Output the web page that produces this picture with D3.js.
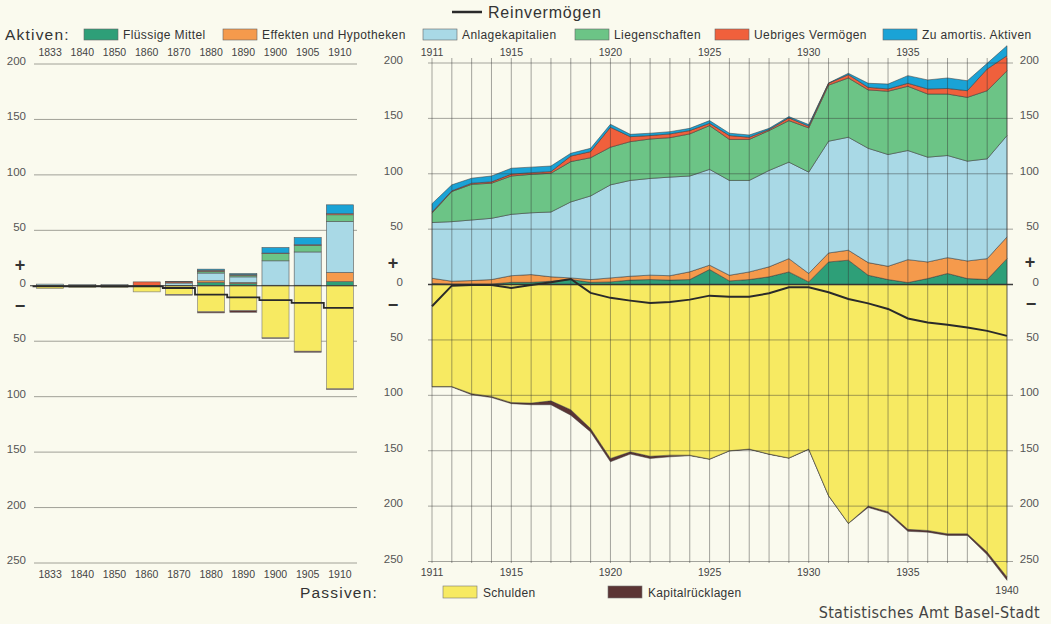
<!DOCTYPE html>
<html>
<head>
<meta charset="utf-8">
<script src="https://cdn.jsdelivr.net/npm/d3@7"></script>
<style>
  body { margin: 0; background: #fafaee; }
  svg { display: block; font-family: "Liberation Sans", Arial, sans-serif; }
</style>
</head>
<body>
<svg id="chart"></svg>
<script>
// ---- data (Mio. Fr.) ----
const assetKeys   = ["Flüssige Mittel", "Effekten und Hypotheken", "Anlagekapitalien", "Liegenschaften", "Uebriges Vermögen", "Zu amortis. Aktiven"];
const assetColors = ["#2e9f78", "#f59a4c", "#a9d9e6", "#6cc486", "#f0603c", "#1aa3d6"];
const debtKeys    = ["Schulden", "Kapitalrücklagen"];
const debtColors  = ["#f7ea62", "#5b3434"];

// left panel: selected years 1833-1910
const earlyYears          = ["1833", "1840", "1850", "1860", "1870", "1880", "1890", "1900", "1905", "1910"];
const earlyFluessig       = [0, 0, 0, 0, 0, 3, 2, 0.5, 0.5, 3.7];
const earlyEffekten       = [0, 0, 0, 0, 0, 1.5, 1, 0, 0, 8.3];
const earlyAnlage         = [1.5, 1, 1, 0, 2.5, 7, 5, 22, 30, 46];
const earlyLiegenschaften = [0, 0, 0, 0, 0, 1.5, 1.5, 6.5, 6, 6];
const earlyUebriges       = [0, 0, 0, 3.5, 1, 1, 0.5, 0.5, 0.5, 1];
const earlyAmortis        = [0, 0, 0, 0, 0.5, 1, 1, 5, 6.5, 8];
const earlySchulden       = [2.5, 1.5, 1.5, 5.5, 8, 23.5, 22.5, 47, 59, 93];
const earlyRuecklagen     = [0, 0, 0, 0, 0.5, 1, 1.5, 0.5, 1, 0.5];
const earlyNetto          = [-0.5, -0.5, -0.5, -0.5, -2, -8, -10.5, -13, -15.5, -20];

// right panel: yearly 1911-1940
const years = [1911, 1912, 1913, 1914, 1915, 1916, 1917, 1918, 1919, 1920,
               1921, 1922, 1923, 1924, 1925, 1926, 1927, 1928, 1929, 1930,
               1931, 1932, 1933, 1934, 1935, 1936, 1937, 1938, 1939, 1940];
const fluessig       = [1, 0.5, 0.5, 0.5, 2, 2, 3, 4.5, 2, 2.4, 4, 4.5, 4, 4.5, 13.6, 3.3, 4.5, 7, 11.4, 2.4, 20.4, 22, 8.4, 4.5, 1.8, 5.4, 10, 5.4, 4.5, 23.4];
const effekten       = [4.7, 2.5, 3.1, 4, 6, 7, 4, 1.5, 2.5, 3.6, 3.5, 4, 4, 7, 3.9, 5.1, 6.9, 9, 12, 7.6, 8.1, 9, 11.4, 12, 20.7, 15, 14.3, 15.9, 18.9, 19.6];
const anlage         = [50.3, 53.8, 54.7, 55.3, 55.4, 55.8, 58.5, 68.6, 75.5, 84, 86.5, 87.3, 89, 86.5, 86.5, 85.6, 82.6, 87, 87.1, 91.5, 100.9, 102, 103.2, 100.9, 98.5, 94.6, 92.2, 90.1, 90.1, 91.5];
const liegenschaften = [8.5, 27.2, 32.2, 31.7, 34.6, 34.7, 35, 36.4, 34.5, 34, 35, 35.6, 35.6, 38, 39.5, 37, 37, 36, 37.5, 39.9, 50.6, 53.5, 52.7, 57.1, 58, 57, 55.5, 57.6, 61.5, 58.5];
const uebriges       = [1, 0.6, 1, 1.2, 1.7, 1.5, 1.5, 5, 5.5, 18, 4.5, 3.1, 3.4, 3, 2.1, 3.5, 2, 1, 2.5, 1.6, 1.7, 3, 2.3, 2.1, 2.7, 4.6, 5, 6, 19.6, 13.6];
const amortis        = [7.5, 5.4, 4.5, 5.3, 5.3, 5, 5, 2.5, 3, 2.7, 2.1, 2.1, 2, 2, 2.4, 2.1, 2, 1, 1.1, 1.4, 0.3, 1.2, 3.7, 4.4, 6.9, 8.1, 9.5, 9, 5.1, 9];
const schulden       = [92, 92, 98.5, 101, 106.5, 107, 105, 113, 130, 157, 151, 155, 154, 154, 157.5, 150, 148.5, 153, 156.5, 148.5, 190.5, 215.5, 200, 205, 221, 222, 225, 225, 241.5, 264];
const ruecklagen     = [0.5, 0.5, 1, 1, 1, 1.5, 3.5, 5, 3, 3, 2, 2, 1.5, 0.5, 0.3, 0.3, 0.3, 0.3, 0.3, 0.3, 0.3, 0.3, 1.2, 1.5, 1.8, 1.5, 1.5, 1.5, 2.4, 3];
const netto          = [-19.6, -1, -0.5, -0.5, -3, -0.5, 2, 5, -7.5, -12, -14.5, -16.6, -15.7, -13.6, -10, -10.9, -10.9, -7.9, -2.4, -2.4, -7, -13, -17, -22, -30.6, -34.2, -36.3, -38.8, -41.8, -46.3];

const valueTicks = [200, 150, 100, 50, 0, -50, -100, -150, -200, -250];
const topYearLabels = [1911, 1915, 1920, 1925, 1930, 1935];
const bottomYearLabels = [1911, 1915, 1920, 1925, 1930, 1935, 1940];

const W = 1051, H = 624;
const svg = d3.select("#chart").attr("width", W).attr("height", H);
svg.append("rect").attr("width", W).attr("height", H).attr("fill", "#fafaee");

const ink = "#3a3a3a";
const tickFont = 10.5;
const valFont = 11.5;

// ---------- LEFT PANEL ----------
const xL = d3.scaleBand().domain(earlyYears).range([34, 356]).paddingInner(0.16).paddingOuter(0.08);
const yL = d3.scaleLinear().domain([-250, 200]).range([563, 64]);

const left = svg.append("g");
left.selectAll("line.grid").data(valueTicks.filter(d => d !== 0)).join("line")
  .attr("x1", 34).attr("x2", 357)
  .attr("y1", d => yL(d)).attr("y2", d => yL(d))
  .attr("stroke", "#8a8a82").attr("stroke-width", 0.8);

left.selectAll("text.val").data(valueTicks).join("text")
  .attr("x", 26).attr("y", d => yL(d) + 1)
  .attr("text-anchor", "end").attr("font-size", valFont).attr("fill", "#555")
  .text(d => Math.abs(d));

const earlyRows = earlyYears.map((y, i) => ({
  year: y,
  [assetKeys[0]]: earlyFluessig[i], [assetKeys[1]]: earlyEffekten[i], [assetKeys[2]]: earlyAnlage[i],
  [assetKeys[3]]: earlyLiegenschaften[i], [assetKeys[4]]: earlyUebriges[i], [assetKeys[5]]: earlyAmortis[i],
  [debtKeys[0]]: earlySchulden[i], [debtKeys[1]]: earlyRuecklagen[i]
}));
const earlyStack = d3.stack().keys(assetKeys)(earlyRows);
const earlyDebt = d3.stack().keys(debtKeys)(earlyRows);

earlyStack.forEach((layer, k) => {
  left.append("g").selectAll("rect").data(layer.filter(d => d[1] - d[0] > 0)).join("rect")
    .attr("x", d => xL(d.data.year)).attr("width", xL.bandwidth())
    .attr("y", d => yL(d[1])).attr("height", d => yL(d[0]) - yL(d[1]))
    .attr("fill", assetColors[k]).attr("stroke", "#555").attr("stroke-width", 0.6);
});
earlyDebt.forEach((layer, k) => {
  left.append("g").selectAll("rect").data(layer.filter(d => d[1] - d[0] > 0)).join("rect")
    .attr("x", d => xL(d.data.year)).attr("width", xL.bandwidth())
    .attr("y", d => yL(-d[0])).attr("height", d => yL(-d[1]) - yL(-d[0]))
    .attr("fill", debtColors[k]).attr("stroke", "#777").attr("stroke-width", 0.6);
});

left.append("line").attr("x1", 30).attr("x2", 357).attr("y1", yL(0)).attr("y2", yL(0))
  .attr("stroke", "#333").attr("stroke-width", 1.1);

const stepPts = earlyNetto.map((v, i) => [xL(earlyYears[i]) + xL.bandwidth() / 2, v]);
stepPts.unshift([xL(earlyYears[0]) - 4, earlyNetto[0]]);
stepPts.push([xL(earlyYears[earlyYears.length - 1]) + xL.bandwidth(), earlyNetto[earlyNetto.length - 1]]);
left.append("path").datum(stepPts)
  .attr("d", d3.line().x(d => d[0]).y(d => yL(d[1])).curve(d3.curveStep))
  .attr("fill", "none").attr("stroke", "#2a2a2a").attr("stroke-width", 1.8);

[56, 578].forEach(yy => {
  left.selectAll(null).data(earlyYears).join("text")
    .attr("x", d => xL(d) + xL.bandwidth() / 2).attr("y", yy)
    .attr("text-anchor", "middle").attr("font-size", tickFont).attr("fill", "#444")
    .text(d => d);
});

// ---------- RIGHT PANEL ----------
const xR = d3.scaleLinear().domain([1911, 1940]).range([432, 1007]);
const yR = d3.scaleLinear().domain([-250, 200]).range([561.5, 63]);

const rows = years.map((y, i) => ({
  year: y,
  [assetKeys[0]]: fluessig[i], [assetKeys[1]]: effekten[i], [assetKeys[2]]: anlage[i],
  [assetKeys[3]]: liegenschaften[i], [assetKeys[4]]: uebriges[i], [assetKeys[5]]: amortis[i],
  [debtKeys[0]]: schulden[i], [debtKeys[1]]: ruecklagen[i]
}));
const stack = d3.stack().keys(assetKeys)(rows);
const debtStack = d3.stack().keys(debtKeys)(rows);

const right = svg.append("g");
const areaPos = d3.area().x(d => xR(d.data.year)).y0(d => yR(d[0])).y1(d => yR(d[1]));
const areaNeg = d3.area().x(d => xR(d.data.year)).y0(d => yR(-d[0])).y1(d => yR(-d[1]));

debtStack.slice().reverse().forEach(layer => {
  const k = debtKeys.indexOf(layer.key);
  right.append("path").datum(layer).attr("d", areaNeg)
    .attr("fill", debtColors[k]).attr("stroke", ink).attr("stroke-width", 0.7).attr("stroke-opacity", 0.7);
});
stack.forEach((layer, k) => {
  right.append("path").datum(layer).attr("d", areaPos)
    .attr("fill", assetColors[k]).attr("stroke", ink).attr("stroke-width", 0.7).attr("stroke-opacity", 0.75);
});

// grid on top of areas
right.selectAll("line.v").data(years).join("line")
  .attr("x1", d => xR(d)).attr("x2", d => xR(d))
  .attr("y1", 58).attr("y2", 563)
  .attr("stroke", "#333").attr("stroke-opacity", 0.55).attr("stroke-width", 0.8);
right.selectAll("line.h").data(valueTicks).join("line")
  .attr("x1", 428).attr("x2", 1013)
  .attr("y1", d => yR(d)).attr("y2", d => yR(d))
  .attr("stroke", "#333").attr("stroke-opacity", d => d === 0 ? 0.95 : 0.55)
  .attr("stroke-width", d => d === 0 ? 1.6 : 0.8);

right.append("path").datum(netto)
  .attr("d", d3.line().x((d, i) => xR(years[i])).y(d => yR(d)))
  .attr("fill", "none").attr("stroke", "#2a2a2a").attr("stroke-width", 2);

right.selectAll("text.vl").data(valueTicks).join("text")
  .attr("x", 403).attr("y", d => yR(d) + 1)
  .attr("text-anchor", "end").attr("font-size", valFont).attr("fill", "#555")
  .text(d => Math.abs(d));
right.selectAll("text.vr").data(valueTicks).join("text")
  .attr("x", 1039).attr("y", d => yR(d) + 1)
  .attr("text-anchor", "end").attr("font-size", valFont).attr("fill", "#555")
  .text(d => Math.abs(d));

right.selectAll("text.yt").data(topYearLabels).join("text")
  .attr("x", d => xR(d)).attr("y", 56)
  .attr("text-anchor", "middle").attr("font-size", tickFont).attr("fill", "#444")
  .text(d => d);
right.selectAll("text.yb").data(bottomYearLabels).join("text")
  .attr("x", d => xR(d)).attr("y", d => d === 1940 ? 594 : 576)
  .attr("text-anchor", "middle").attr("font-size", tickFont).attr("fill", "#444")
  .text(d => d);

// plus / minus signs
[[20, 271, "+"], [20, 312, "−"], [393, 269, "+"], [393, 311, "−"], [1030, 268, "+"], [1031, 310, "−"]].forEach(([x, y, s]) => {
  svg.append("text").attr("x", x).attr("y", y).attr("text-anchor", "middle")
    .attr("font-size", 18).attr("font-weight", "bold").attr("fill", "#333").text(s);
});

// ---------- LEGENDS ----------
svg.append("line").attr("x1", 452).attr("x2", 482).attr("y1", 12).attr("y2", 12)
  .attr("stroke", "#2a2a2a").attr("stroke-width", 2.5);
svg.append("text").attr("x", 488).attr("y", 18).attr("font-size", 16).attr("letter-spacing", 0.8)
  .attr("fill", "#333").text("Reinvermögen");

svg.append("text").attr("x", 5).attr("y", 40).attr("font-size", 15.5).attr("letter-spacing", 1.2)
  .attr("font-weight", 500).attr("fill", "#333").text("Aktiven:");
const legendX = [84, 223, 423, 575, 715, 883];
assetKeys.forEach((k, i) => {
  svg.append("rect").attr("x", legendX[i]).attr("y", 29).attr("width", 34).attr("height", 11)
    .attr("fill", assetColors[i]).attr("stroke", "#666").attr("stroke-width", 0.6);
  svg.append("text").attr("x", legendX[i] + 39).attr("y", 39).attr("font-size", 12)
    .attr("letter-spacing", 0.4).attr("fill", "#333").text(k);
});

svg.append("text").attr("x", 300).attr("y", 598).attr("font-size", 15.5).attr("letter-spacing", 1.2)
  .attr("font-weight", 500).attr("fill", "#333").text("Passiven:");
const debtLegendX = [443, 608];
debtKeys.forEach((k, i) => {
  svg.append("rect").attr("x", debtLegendX[i]).attr("y", 586).attr("width", 34).attr("height", 12)
    .attr("fill", debtColors[i]).attr("stroke", "#777").attr("stroke-width", 0.6);
  svg.append("text").attr("x", debtLegendX[i] + 40).attr("y", 597).attr("font-size", 12)
    .attr("letter-spacing", 0.3).attr("fill", "#333").text(k);
});

svg.append("text").attr("x", 1040).attr("y", 618).attr("text-anchor", "end")
  .attr("font-family", "'Liberation Sans Narrow', 'DejaVu Sans Condensed', sans-serif")
  .attr("font-size", 16).attr("letter-spacing", 0.3).attr("fill", "#444")
  .text("Statistisches Amt Basel-Stadt");
</script>
</body>
</html>
